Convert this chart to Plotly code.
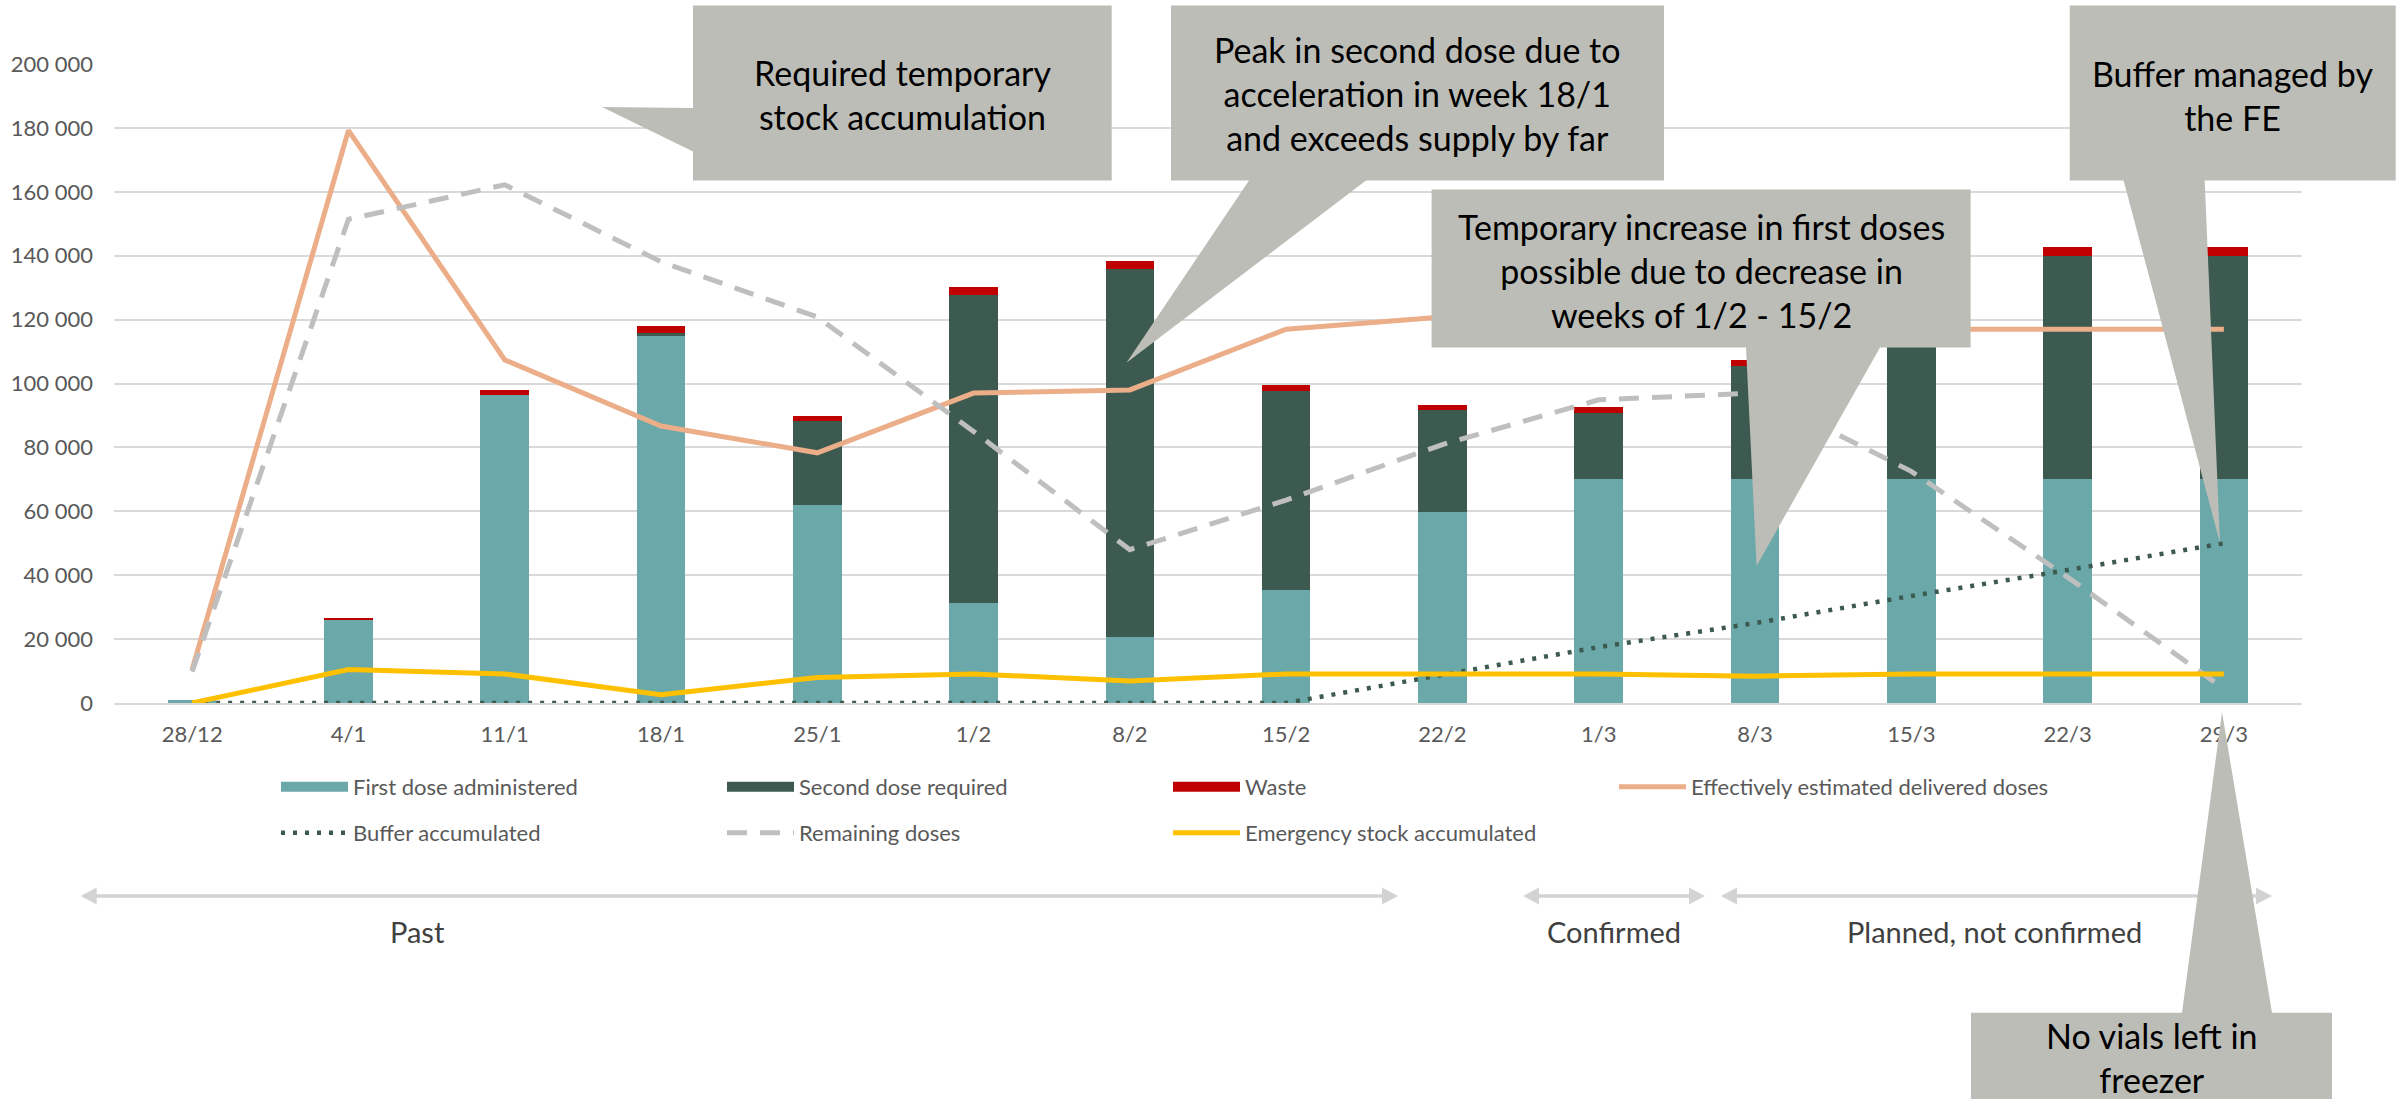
import plotly.graph_objects as go

# ---------------- data ----------------
categories = ["28/12", "4/1", "11/1", "18/1", "25/1", "1/2", "8/2", "15/2",
              "22/2", "1/3", "8/3", "15/3", "22/3", "29/3"]
first_dose = [800, 26200, 96300, 114800, 62000, 31400, 20600, 35300,
              59800, 70000, 70000, 70000, 70000, 70000]
second_dose = [0, 0, 0, 900, 26400, 96200, 115200, 62200,
               31800, 20800, 35400, 50000, 70000, 70000]
waste = [0, 500, 1600, 2200, 1400, 2500, 2600, 1900,
         1600, 1800, 2000, 2200, 2600, 2600]
delivered = [10500, 179200, 107400, 86700, 78300, 97000, 98000, 117000,
             120800, 119000, 117500, 117000, 117000, 117000]
buffer_acc = [0, 0, 0, 0, 0, 0, 0, 0,
              8800, 17500, 25000, 33500, 41600, 50000]
remaining = [9800, 151400, 162200, 138100, 120800, 85000, 48000, 63500,
             80900, 94900, 97000, 72500, 39400, 4500]
emergency = [0, 10500, 9100, 2600, 8000, 9100, 6900, 9100,
             9100, 9100, 8400, 9100, 9100, 9100]

callout_texts = [
    "Required temporary<br>stock accumulation",
    "Peak in second dose due to<br>acceleration in week 18/1<br>and exceeds supply by far",
    "Temporary increase in first doses<br>possible due to decrease in<br>weeks of 1/2 - 15/2",
    "Buffer managed by<br>the FE",
    "No vials left in<br>freezer",
]
period_labels = ["Past", "Confirmed", "Planned, not confirmed"]

# ---------------- layout geometry ----------------
W, H = 2405, 1099
ML, MR, MT, MB = 114, 103, 64, 396
PW = W - ML - MR
PH = H - MT - MB

FONT = "Lato, 'Open Sans', sans-serif"
TEAL = "#6BA8A9"
DARK = "#3C5A50"
RED = "#C00000"
ORANGE = "#EBAE88"
GREY = "#BFBFBF"
YELLOW = "#FFC000"
CALLOUT = "#BDBDB7"
ARROW = "#D3D3D3"


def px(x):
    return (x - ML) / PW


def py(y):
    return (H - MB - y) / PH


def path(points):
    return "M" + " L".join(f"{px(x):.5f},{py(y):.5f}" for x, y in points) + " Z"


fig = go.Figure()

bar_series = [
    (first_dose, "First dose administered", TEAL, "first"),
    (second_dose, "Second dose required", DARK, "second"),
    (waste, "Waste", RED, "waste"),
]
for vals, name, col, grp in bar_series:
    fig.add_trace(go.Bar(x=categories, y=vals, name=name, legendgroup=grp,
                         showlegend=False,
                         marker=dict(color=col, line=dict(width=0))))
# wide rectangular legend keys for the stacked bars (same legend groups)
for vals, name, col, grp in bar_series:
    fig.add_trace(go.Scatter(x=[None], y=[None], mode="lines", name=name,
                             legendgroup=grp, legend="legend",
                             line=dict(color=col, width=14)))

fig.add_trace(go.Scatter(x=categories, y=delivered, mode="lines",
                         name="Effectively estimated delivered doses",
                         line=dict(color=ORANGE, width=5), legend="legend"))
fig.add_trace(go.Scatter(x=categories, y=buffer_acc, mode="lines",
                         name="Buffer accumulated",
                         line=dict(color=DARK, width=4.5, dash="4px,8px"), legend="legend2"))
fig.add_trace(go.Scatter(x=categories, y=remaining, mode="lines",
                         name="Remaining doses",
                         line=dict(color=GREY, width=5, dash="20px,13px"), legend="legend2"))
fig.add_trace(go.Scatter(x=categories, y=emergency, mode="lines",
                         name="Emergency stock accumulated",
                         line=dict(color=YELLOW, width=5), legend="legend2"))

shapes = []
annotations = []

# period arrows
arrow_spans = [(80.7, 1398), (1523, 1705), (1721, 2272)]
label_x = [417, 1613.5, 1994]
AY = 896
for (x0, x1), lx, lab in zip(arrow_spans, label_x, period_labels):
    shapes.append(dict(type="line", xref="paper", yref="paper",
                       x0=px(x0 + 12), x1=px(x1 - 12), y0=py(AY), y1=py(AY),
                       line=dict(color=ARROW, width=3.5), layer="above"))
    shapes.append(dict(type="path", xref="paper", yref="paper",
                       path=path([(x0, AY), (x0 + 16, AY - 8.5), (x0 + 16, AY + 8.5)]),
                       fillcolor=ARROW, line=dict(width=0), layer="above"))
    shapes.append(dict(type="path", xref="paper", yref="paper",
                       path=path([(x1, AY), (x1 - 16, AY - 8.5), (x1 - 16, AY + 8.5)]),
                       fillcolor=ARROW, line=dict(width=0), layer="above"))
    annotations.append(dict(x=px(lx), y=py(931), xref="paper", yref="paper",
                            text=lab, showarrow=False, xanchor="center", yanchor="middle",
                            font=dict(family=FONT, size=29, color="#404040")))

# callouts (box + pointer)
callout_paths = [
    [(693, 5.5), (1111.7, 5.5), (1111.7, 180.5), (693, 180.5), (693, 151.5), (602, 107), (693, 108)],
    [(1171, 5.5), (1664, 5.5), (1664, 180.5), (1366, 180.5), (1126.5, 362.7), (1249, 180.5), (1171, 180.5)],
    [(1431.6, 189.6), (1970.6, 189.6), (1970.6, 347.6), (1880, 347.6), (1756.6, 566), (1746, 347.6), (1431.6, 347.6)],
    [(2069.7, 5.5), (2395.7, 5.5), (2395.7, 180.5), (2204.7, 180.5), (2220, 543), (2123.6, 180.5), (2069.7, 180.5)],
    [(1971, 1012.7), (2182, 1012.7), (2222, 712), (2272, 1012.7), (2332, 1012.7), (2332, 1110), (1971, 1110)],
]
callout_centres = [(902, 94), (1417.5, 93), (1701, 270), (2232.7, 95), (2151.5, 1057)]
for pts, (cx, cy), txt in zip(callout_paths, callout_centres, callout_texts):
    shapes.append(dict(type="path", xref="paper", yref="paper", path=path(pts),
                       fillcolor=CALLOUT, line=dict(width=0), layer="above"))
    annotations.append(dict(x=px(cx), y=py(cy), xref="paper", yref="paper",
                            text=txt, showarrow=False, xanchor="center", yanchor="middle",
                            align="center",
                            font=dict(family=FONT, size=34, color="#000000")))

legend_common = dict(orientation="h", xanchor="left", yanchor="middle",
                     traceorder="normal",
                     entrywidth=364, entrywidthmode="pixels", itemwidth=67,
                     bgcolor="rgba(0,0,0,0)", borderwidth=0,
                     font=dict(family=FONT, size=22, color="#595959"),
                     itemclick=False, itemdoubleclick=False)

fig.update_layout(
    width=W, height=H,
    margin=dict(l=ML, r=MR, t=MT, b=MB, autoexpand=False),
    paper_bgcolor="white", plot_bgcolor="white",
    barmode="stack", bargap=0.69,
    separators=", ",
    font=dict(family=FONT, size=22, color="#595959"),
    showlegend=True,
    legend=dict(x=px(276), y=py(787), **legend_common),
    legend2=dict(x=px(276), y=py(833), **legend_common),
    shapes=shapes,
    annotations=annotations,
    hovermode=False,
    xaxis=dict(type="category", showgrid=False, zeroline=False,
               showline=True, linecolor="#D9D9D9", linewidth=1.5,
               ticks="", tickfont=dict(family=FONT, size=22, color="#595959"),
               ticklabelstandoff=11),
    yaxis=dict(range=[0, 200000], dtick=20000, tickformat=",d",
               showgrid=True, gridcolor="#D9D9D9", gridwidth=1.5,
               zeroline=False, showline=False, ticks="",
               tickfont=dict(family=FONT, size=22, color="#595959"),
               ticklabelstandoff=20),
)

fig.write_html("out.html", config={"displayModeBar": False},
               post_script="document.body.style.margin='0';document.body.style.overflow='hidden';")
